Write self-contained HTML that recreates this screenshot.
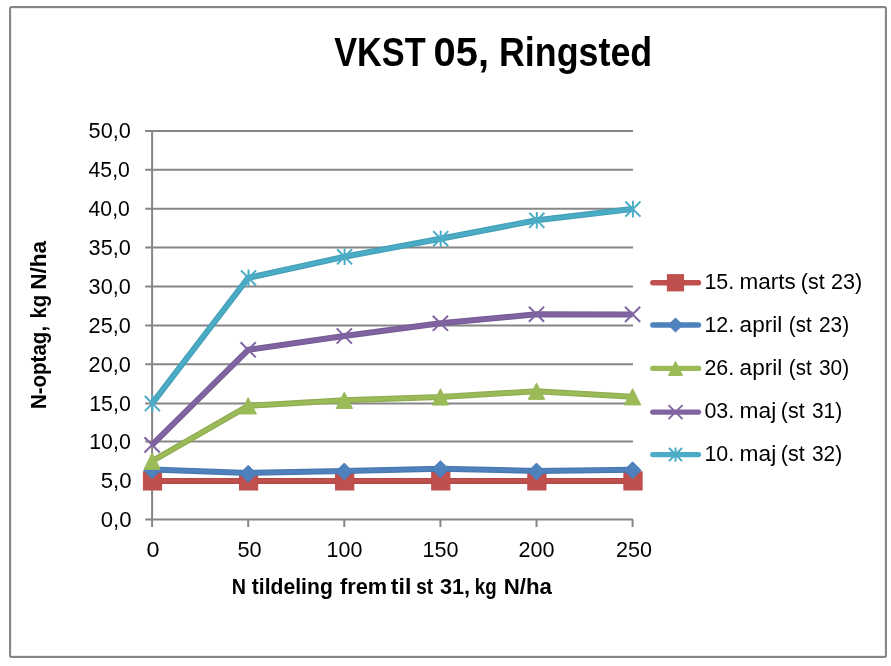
<!DOCTYPE html>
<html><head><meta charset="utf-8"><style>
html,body{margin:0;padding:0;background:#fff;width:891px;height:666px;overflow:hidden}
svg{display:block;will-change:transform}
text{font-family:"Liberation Sans",sans-serif;fill:#000}
</style></head><body>
<svg width="891" height="666" viewBox="0 0 891 666">
<rect x="10" y="7" width="876" height="650" rx="1.5" fill="#fff" stroke="#868686" stroke-width="2"/><rect x="11.5" y="8.5" width="873" height="647" fill="none" stroke="#ececec" stroke-width="1"/>
<text x="334.20" y="66.20" font-size="41" font-weight="bold" textLength="91.40" lengthAdjust="spacingAndGlyphs">VKST</text>
<text x="433.60" y="66.20" font-size="41" font-weight="bold" textLength="55.40" lengthAdjust="spacingAndGlyphs">05,</text>
<text x="499.00" y="66.20" font-size="41" font-weight="bold" textLength="153.20" lengthAdjust="spacingAndGlyphs">Ringsted</text>
<path d="M145.2 480.80H633 M145.2 441.60H633 M145.2 403.40H633 M145.2 364.30H633 M145.2 325.60H633 M145.2 286.60H633 M145.2 247.60H633 M145.2 208.80H633 M145.2 169.80H633 M145.2 131.00H633" stroke="#868686" stroke-width="2" fill="none"/>
<path d="M152.1 130.00V527M145.2 519.5H633" stroke="#868686" stroke-width="2" fill="none"/>
<path d="M248.20 519.5V527 M344.30 519.5V527 M440.40 519.5V527 M536.50 519.5V527 M632.60 519.5V527" stroke="#868686" stroke-width="2" fill="none"/>
<text x="100.80" y="526.70" font-size="22" textLength="30.80" lengthAdjust="spacingAndGlyphs">0,0</text>
<text x="100.80" y="488.00" font-size="22" textLength="30.80" lengthAdjust="spacingAndGlyphs">5,0</text>
<text x="89.20" y="448.80" font-size="22" textLength="41.60" lengthAdjust="spacingAndGlyphs">10,0</text>
<text x="89.20" y="410.60" font-size="22" textLength="41.60" lengthAdjust="spacingAndGlyphs">15,0</text>
<text x="88.60" y="371.50" font-size="22" textLength="42.20" lengthAdjust="spacingAndGlyphs">20,0</text>
<text x="88.60" y="332.80" font-size="22" textLength="42.20" lengthAdjust="spacingAndGlyphs">25,0</text>
<text x="88.60" y="293.80" font-size="22" textLength="42.20" lengthAdjust="spacingAndGlyphs">30,0</text>
<text x="88.60" y="254.80" font-size="22" textLength="42.20" lengthAdjust="spacingAndGlyphs">35,0</text>
<text x="88.60" y="216.00" font-size="22" textLength="41.20" lengthAdjust="spacingAndGlyphs">40,0</text>
<text x="88.60" y="177.00" font-size="22" textLength="41.20" lengthAdjust="spacingAndGlyphs">45,0</text>
<text x="88.60" y="138.20" font-size="22" textLength="42.20" lengthAdjust="spacingAndGlyphs">50,0</text>
<text x="146.40" y="557.00" font-size="22" textLength="13.00" lengthAdjust="spacingAndGlyphs">0</text>
<text x="237.40" y="557.00" font-size="22" textLength="24.20" lengthAdjust="spacingAndGlyphs">50</text>
<text x="326.60" y="557.00" font-size="22" textLength="35.80" lengthAdjust="spacingAndGlyphs">100</text>
<text x="422.40" y="557.00" font-size="22" textLength="36.00" lengthAdjust="spacingAndGlyphs">150</text>
<text x="518.60" y="557.00" font-size="22" textLength="36.00" lengthAdjust="spacingAndGlyphs">200</text>
<text x="616.00" y="557.00" font-size="22" textLength="36.00" lengthAdjust="spacingAndGlyphs">250</text>
<text x="231.80" y="593.80" font-size="21.5" font-weight="bold" textLength="14.20" lengthAdjust="spacingAndGlyphs">N</text>
<text x="251.80" y="593.80" font-size="21.5" font-weight="bold" textLength="81.00" lengthAdjust="spacingAndGlyphs">tildeling</text>
<text x="340.00" y="593.80" font-size="21.5" font-weight="bold" textLength="47.20" lengthAdjust="spacingAndGlyphs">frem</text>
<text x="390.80" y="593.80" font-size="21.5" font-weight="bold" textLength="20.60" lengthAdjust="spacingAndGlyphs">til</text>
<text x="416.20" y="593.80" font-size="21.5" font-weight="bold" textLength="16.80" lengthAdjust="spacingAndGlyphs">st</text>
<text x="440.00" y="593.80" font-size="21.5" font-weight="bold" textLength="30.00" lengthAdjust="spacingAndGlyphs">31,</text>
<text x="474.80" y="593.80" font-size="21.5" font-weight="bold" textLength="21.80" lengthAdjust="spacingAndGlyphs">kg</text>
<text x="503.80" y="593.80" font-size="21.5" font-weight="bold" textLength="48.20" lengthAdjust="spacingAndGlyphs">N/ha</text>
<text transform="translate(45.90 409.10) rotate(-90)" x="0" y="0" font-size="21.5" font-weight="bold" textLength="83.20" lengthAdjust="spacingAndGlyphs">N-optag,</text>
<text transform="translate(45.90 318.50) rotate(-90)" x="0" y="0" font-size="21.5" font-weight="bold" textLength="23.80" lengthAdjust="spacingAndGlyphs">kg</text>
<text transform="translate(45.90 289.80) rotate(-90)" x="0" y="0" font-size="21.5" font-weight="bold" textLength="49.00" lengthAdjust="spacingAndGlyphs">N/ha</text>
<polyline points="152.10,480.90 248.20,480.90 344.30,480.90 440.40,480.90 536.50,480.90 632.60,480.90" fill="none" stroke="#B24A47" stroke-width="6" stroke-linejoin="round" stroke-linecap="butt"/>
<polyline points="152.10,480.90 248.20,480.90 344.30,480.90 440.40,480.90 536.50,480.90 632.60,480.90" fill="none" stroke="#C0504D" stroke-width="3.6" stroke-linejoin="round" stroke-linecap="butt"/>
<rect x="143.40" y="471.80" width="18.20" height="18.20" fill="#C0504D" stroke="#BE4B48" stroke-width="1"/>
<rect x="239.50" y="471.80" width="18.20" height="18.20" fill="#C0504D" stroke="#BE4B48" stroke-width="1"/>
<rect x="335.60" y="471.80" width="18.20" height="18.20" fill="#C0504D" stroke="#BE4B48" stroke-width="1"/>
<rect x="431.70" y="471.80" width="18.20" height="18.20" fill="#C0504D" stroke="#BE4B48" stroke-width="1"/>
<rect x="527.80" y="471.80" width="18.20" height="18.20" fill="#C0504D" stroke="#BE4B48" stroke-width="1"/>
<rect x="623.90" y="471.80" width="18.20" height="18.20" fill="#C0504D" stroke="#BE4B48" stroke-width="1"/>
<polyline points="152.10,469.40 248.20,472.90 344.30,471.00 440.40,468.80 536.50,470.90 632.60,469.70" fill="none" stroke="#4977AF" stroke-width="6" stroke-linejoin="round" stroke-linecap="butt"/>
<polyline points="152.10,469.40 248.20,472.90 344.30,471.00 440.40,468.80 536.50,470.90 632.60,469.70" fill="none" stroke="#4F81BD" stroke-width="3.6" stroke-linejoin="round" stroke-linecap="butt"/>
<path d="M152.10 461.75L160.55 470.20L152.10 478.65L143.65 470.20Z" fill="#4F81BD" stroke="#4A7EBB" stroke-width="1"/>
<path d="M248.20 465.35L256.65 473.80L248.20 482.25L239.75 473.80Z" fill="#4F81BD" stroke="#4A7EBB" stroke-width="1"/>
<path d="M344.30 463.05L352.75 471.50L344.30 479.95L335.85 471.50Z" fill="#4F81BD" stroke="#4A7EBB" stroke-width="1"/>
<path d="M440.40 460.75L448.85 469.20L440.40 477.65L431.95 469.20Z" fill="#4F81BD" stroke="#4A7EBB" stroke-width="1"/>
<path d="M536.50 463.05L544.95 471.50L536.50 479.95L528.05 471.50Z" fill="#4F81BD" stroke="#4A7EBB" stroke-width="1"/>
<path d="M632.60 461.85L641.05 470.30L632.60 478.75L624.15 470.30Z" fill="#4F81BD" stroke="#4A7EBB" stroke-width="1"/>
<polyline points="152.10,461.20 248.20,405.80 344.30,400.30 440.40,396.90 536.50,391.20 632.60,396.80" fill="none" stroke="#90AD52" stroke-width="6" stroke-linejoin="round" stroke-linecap="butt"/>
<polyline points="152.10,461.20 248.20,405.80 344.30,400.30 440.40,396.90 536.50,391.20 632.60,396.80" fill="none" stroke="#9BBB59" stroke-width="3.6" stroke-linejoin="round" stroke-linecap="butt"/>
<path d="M152.10 453.05L160.25 469.35L143.95 469.35Z" fill="#9BBB59" stroke="#98B954" stroke-width="1"/>
<path d="M248.20 397.65L256.35 413.95L240.05 413.95Z" fill="#9BBB59" stroke="#98B954" stroke-width="1"/>
<path d="M344.30 392.15L352.45 408.45L336.15 408.45Z" fill="#9BBB59" stroke="#98B954" stroke-width="1"/>
<path d="M440.40 388.75L448.55 405.05L432.25 405.05Z" fill="#9BBB59" stroke="#98B954" stroke-width="1"/>
<path d="M536.50 383.05L544.65 399.35L528.35 399.35Z" fill="#9BBB59" stroke="#98B954" stroke-width="1"/>
<path d="M632.60 388.65L640.75 404.95L624.45 404.95Z" fill="#9BBB59" stroke="#98B954" stroke-width="1"/>
<polyline points="152.10,444.90 248.20,349.80 344.30,336.00 440.40,323.30 536.50,314.20 632.60,314.40" fill="none" stroke="#775D96" stroke-width="6" stroke-linejoin="round" stroke-linecap="butt"/>
<polyline points="152.10,444.90 248.20,349.80 344.30,336.00 440.40,323.30 536.50,314.20 632.60,314.40" fill="none" stroke="#8064A2" stroke-width="3.6" stroke-linejoin="round" stroke-linecap="butt"/>
<path d="M144.50 437.30L159.70 452.50M159.70 437.30L144.50 452.50" stroke="#8064A2" stroke-width="2" fill="none"/>
<path d="M240.60 342.20L255.80 357.40M255.80 342.20L240.60 357.40" stroke="#8064A2" stroke-width="2" fill="none"/>
<path d="M336.70 328.40L351.90 343.60M351.90 328.40L336.70 343.60" stroke="#8064A2" stroke-width="2" fill="none"/>
<path d="M432.80 315.70L448.00 330.90M448.00 315.70L432.80 330.90" stroke="#8064A2" stroke-width="2" fill="none"/>
<path d="M528.90 306.60L544.10 321.80M544.10 306.60L528.90 321.80" stroke="#8064A2" stroke-width="2" fill="none"/>
<path d="M625.00 306.80L640.20 322.00M640.20 306.80L625.00 322.00" stroke="#8064A2" stroke-width="2" fill="none"/>
<polyline points="152.10,403.60 248.20,277.90 344.30,256.80 440.40,238.70 536.50,220.30 632.60,209.10" fill="none" stroke="#459FB8" stroke-width="6" stroke-linejoin="round" stroke-linecap="butt"/>
<polyline points="152.10,403.60 248.20,277.90 344.30,256.80 440.40,238.70 536.50,220.30 632.60,209.10" fill="none" stroke="#4BACC6" stroke-width="3.6" stroke-linejoin="round" stroke-linecap="butt"/>
<path d="M144.85 396.05L159.95 411.15M159.95 396.05L144.85 411.15M152.40 395.30L152.40 411.91" stroke="#4BACC6" stroke-width="2" fill="none"/>
<path d="M240.95 270.35L256.05 285.45M256.05 270.35L240.95 285.45M248.50 269.59L248.50 286.20" stroke="#4BACC6" stroke-width="2" fill="none"/>
<path d="M337.05 249.25L352.15 264.35M352.15 249.25L337.05 264.35M344.60 248.50L344.60 265.11" stroke="#4BACC6" stroke-width="2" fill="none"/>
<path d="M433.15 231.15L448.25 246.25M448.25 231.15L433.15 246.25M440.70 230.39L440.70 247.00" stroke="#4BACC6" stroke-width="2" fill="none"/>
<path d="M529.25 212.75L544.35 227.85M544.35 212.75L529.25 227.85M536.80 212.00L536.80 228.61" stroke="#4BACC6" stroke-width="2" fill="none"/>
<path d="M625.35 201.55L640.45 216.65M640.45 201.55L625.35 216.65M632.90 200.79L632.90 217.41" stroke="#4BACC6" stroke-width="2" fill="none"/>
<line x1="652.8" y1="282.8" x2="698.5" y2="282.8" stroke="#C0504D" stroke-width="5.4" stroke-linecap="round"/>
<rect x="667.40" y="274.70" width="16.20" height="16.20" fill="#C0504D" stroke="#BE4B48" stroke-width="1"/>
<text x="704.40" y="288.90" font-size="22" textLength="29.80" lengthAdjust="spacingAndGlyphs">15.</text>
<text x="739.60" y="288.90" font-size="22" textLength="56.20" lengthAdjust="spacingAndGlyphs">marts</text>
<text x="800.80" y="288.90" font-size="22" textLength="23.80" lengthAdjust="spacingAndGlyphs">(st</text>
<text x="831.00" y="288.90" font-size="22" textLength="31.20" lengthAdjust="spacingAndGlyphs">23)</text>
<line x1="652.8" y1="325.0" x2="698.5" y2="325.0" stroke="#4F81BD" stroke-width="5.4" stroke-linecap="round"/>
<path d="M675.50 317.95L682.55 325.00L675.50 332.05L668.45 325.00Z" fill="#4F81BD" stroke="#4A7EBB" stroke-width="1"/>
<text x="704.40" y="331.80" font-size="22" textLength="29.80" lengthAdjust="spacingAndGlyphs">12.</text>
<text x="739.60" y="331.80" font-size="22" textLength="42.60" lengthAdjust="spacingAndGlyphs">april</text>
<text x="788.80" y="331.80" font-size="22" textLength="22.80" lengthAdjust="spacingAndGlyphs">(st</text>
<text x="819.00" y="331.80" font-size="22" textLength="30.20" lengthAdjust="spacingAndGlyphs">23)</text>
<line x1="652.8" y1="368.4" x2="698.5" y2="368.4" stroke="#9BBB59" stroke-width="5.4" stroke-linecap="round"/>
<path d="M675.50 361.40L682.50 375.40L668.50 375.40Z" fill="#9BBB59" stroke="#98B954" stroke-width="1"/>
<text x="704.40" y="374.70" font-size="22" textLength="29.80" lengthAdjust="spacingAndGlyphs">26.</text>
<text x="739.60" y="374.70" font-size="22" textLength="42.60" lengthAdjust="spacingAndGlyphs">april</text>
<text x="788.80" y="374.70" font-size="22" textLength="22.80" lengthAdjust="spacingAndGlyphs">(st</text>
<text x="819.00" y="374.70" font-size="22" textLength="30.20" lengthAdjust="spacingAndGlyphs">30)</text>
<line x1="652.8" y1="412.1" x2="698.5" y2="412.1" stroke="#8064A2" stroke-width="5.4" stroke-linecap="round"/>
<path d="M668.50 405.10L682.50 419.10M682.50 405.10L668.50 419.10" stroke="#8064A2" stroke-width="2" fill="none"/>
<text x="704.40" y="417.60" font-size="22" textLength="29.80" lengthAdjust="spacingAndGlyphs">03.</text>
<text x="739.60" y="417.60" font-size="22" textLength="36.60" lengthAdjust="spacingAndGlyphs">maj</text>
<text x="780.80" y="417.60" font-size="22" textLength="23.80" lengthAdjust="spacingAndGlyphs">(st</text>
<text x="812.00" y="417.60" font-size="22" textLength="30.20" lengthAdjust="spacingAndGlyphs">31)</text>
<line x1="652.8" y1="454.6" x2="698.5" y2="454.6" stroke="#4BACC6" stroke-width="5.4" stroke-linecap="round"/>
<path d="M668.95 448.05L682.05 461.15M682.05 448.05L668.95 461.15M675.50 447.40L675.50 461.81" stroke="#4BACC6" stroke-width="2" fill="none"/>
<text x="704.40" y="460.50" font-size="22" textLength="29.80" lengthAdjust="spacingAndGlyphs">10.</text>
<text x="739.60" y="460.50" font-size="22" textLength="36.60" lengthAdjust="spacingAndGlyphs">maj</text>
<text x="780.80" y="460.50" font-size="22" textLength="23.80" lengthAdjust="spacingAndGlyphs">(st</text>
<text x="812.00" y="460.50" font-size="22" textLength="30.20" lengthAdjust="spacingAndGlyphs">32)</text>
</svg></body></html>
